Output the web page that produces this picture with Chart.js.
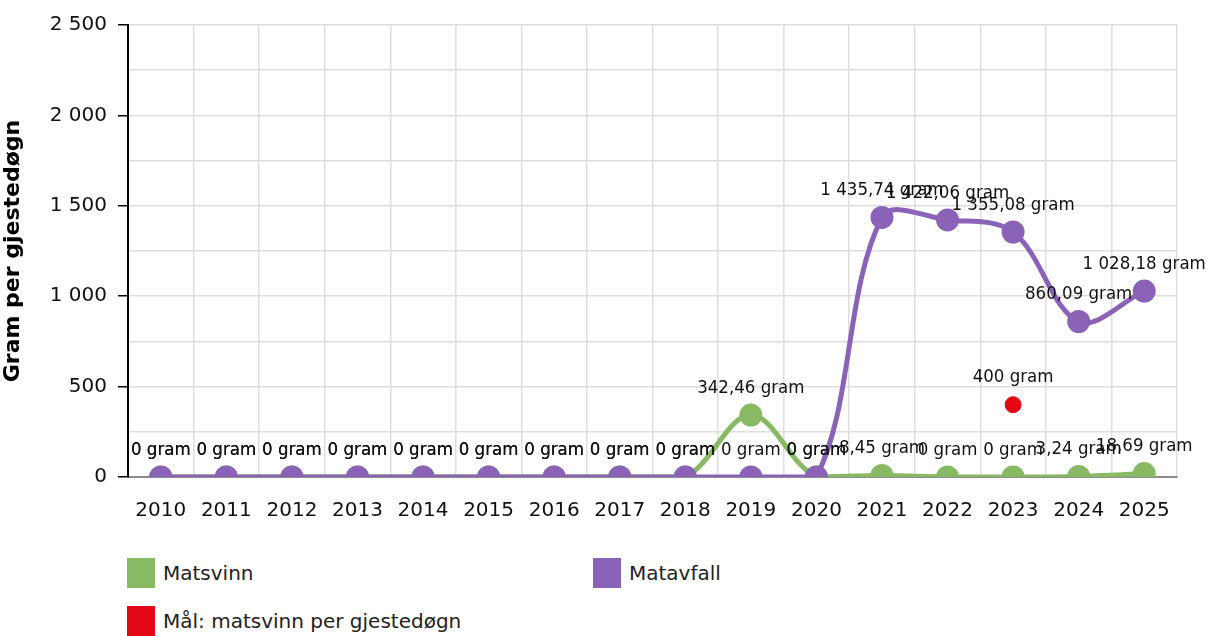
<!DOCTYPE html>
<html>
<head>
<meta charset="utf-8">
<script src="https://cdn.jsdelivr.net/npm/chart.js@4.4.0/dist/chart.umd.min.js"></script>
<style>
  body { margin: 0; background: #fff; font-family: "DejaVu Sans", sans-serif; }
  #wrap { position: relative; width: 1216px; height: 636px; overflow: hidden; }
  #legend .item { position: absolute; display: flex; align-items: center; font-size: 20px; color: #222; }
  #legend .box { width: 28px; height: 30px; margin-right: 8px; }
</style>
</head>
<body>
<div id="wrap">
  <canvas id="chart" width="1216" height="545"></canvas>
  <div id="legend"></div>
</div>
<script>
const years = ['2010', '2011', '2012', '2013', '2014', '2015', '2016', '2017',
  '2018', '2019', '2020', '2021', '2022', '2023', '2024', '2025'];
const matsvinn = [0, 0, 0, 0, 0, 0, 0, 0, 0, 342.46, 0, 8.45, 0, 0, 3.24, 18.69];
const matavfall = [0, 0, 0, 0, 0, 0, 0, 0, 0, 0, 0, 1435.74, 1422.06, 1355.08, 860.09, 1028.18];
const maal = [null, null, null, null, null, null, null, null, null, null, null, null, null, 400, null, null];
const yTicks = [0, 500, 1000, 1500, 2000, 2500];

const green = '#88ba63';
const purple = '#8a63b8';
const red = '#e30613';

// norsk tallformat: mellomrom som tusenskille, komma som desimal
function fmt(v) {
  let s = Number.isInteger(v) ? String(v) : v.toFixed(2);
  let [int, dec] = s.split('.');
  int = int.replace(/\B(?=(\d{3})+(?!\d))/g, ' ');
  return dec ? int + ',' + dec : int;
}

const pointLabels = {
  id: 'pointLabels',
  afterDatasetsDraw(chart) {
    const ctx = chart.ctx;
    ctx.save();
    ctx.font = '18.5px "DejaVu Sans Condensed"';
    ctx.fillStyle = '#111';
    ctx.textAlign = 'center';
    ctx.textBaseline = 'middle';
    chart.data.datasets.forEach((ds, i) => {
      const meta = chart.getDatasetMeta(i);
      meta.data.forEach((pt, j) => {
        const v = ds.data[j];
        if (v === null || v === undefined) return;
        ctx.fillText(fmt(v) + ' gram', pt.x, pt.y - 27);
      });
    });
    ctx.restore();
  }
};

const chart = new Chart(document.getElementById('chart').getContext('2d'), {
  type: 'line',
  data: {
    labels: years,
    datasets: [
      {
        label: 'Matsvinn',
        data: matsvinn,
        borderColor: green,
        backgroundColor: green,
        borderWidth: 5,
        pointRadius: 9,
        pointHoverRadius: 9,
        tension: 0.35,
        order: 2
      },
      {
        label: 'Matavfall',
        data: matavfall,
        borderColor: purple,
        backgroundColor: purple,
        borderWidth: 5,
        pointRadius: 9,
        pointHoverRadius: 9,
        tension: 0.35,
        order: 1
      },
      {
        label: 'Mål: matsvinn per gjestedøgn',
        data: maal,
        borderColor: red,
        backgroundColor: red,
        showLine: false,
        pointRadius: 8,
        pointHoverRadius: 8,
        order: 0
      }
    ]
  },
  options: {
    responsive: false,
    animation: false,
    layout: { padding: { top: 25, right: 39, left: 0, bottom: 0 } },
    plugins: {
      legend: { display: false },
      tooltip: { enabled: false }
    },
    scales: {
      x: {
        offset: true,
        grid: { offset: true, color: '#dedede', lineWidth: 1.5, drawTicks: false },
        border: { color: '#8c8c8c', width: 2 },
        ticks: { color: '#111', font: { family: 'DejaVu Sans', size: 20 }, padding: 22, maxRotation: 0 },
        afterFit(scale) { scale.height = 545 - 477; }
      },
      y: {
        min: 0,
        max: 2500,
        ticks: {
          stepSize: 250,
          color: '#111',
          padding: 11,
          font: { family: 'DejaVu Sans', size: 20 },
          callback: v => yTicks.includes(v) ? fmt(v) : ''
        },
        grid: {
          color: '#dedede',
          lineWidth: 1.5,
          tickLength: 10,
          tickColor: c => yTicks.includes(c.tick.value) ? '#000' : 'rgba(0,0,0,0)'
        },
        border: { color: '#000', width: 2 },
        title: {
          display: true,
          text: 'Gram per gjestedøgn',
          color: '#000',
          font: { family: 'DejaVu Sans', size: 22, weight: 'bold' },
          padding: { top: 0, bottom: 2 }
        },
        afterFit(scale) { scale.width = 128; }
      }
    }
  },
  plugins: [pointLabels]
});

// legende i to kolonner, som i originalen
const legendPos = [[127, 558], [593, 558], [127, 606]];
const legend = document.getElementById('legend');
chart.data.datasets.forEach((ds, i) => {
  const item = document.createElement('div');
  item.className = 'item';
  item.style.left = legendPos[i][0] + 'px';
  item.style.top = legendPos[i][1] + 'px';
  const box = document.createElement('span');
  box.className = 'box';
  box.style.background = ds.backgroundColor;
  const txt = document.createElement('span');
  txt.textContent = ds.label;
  item.appendChild(box);
  item.appendChild(txt);
  legend.appendChild(item);
});
</script>
</body>
</html>
